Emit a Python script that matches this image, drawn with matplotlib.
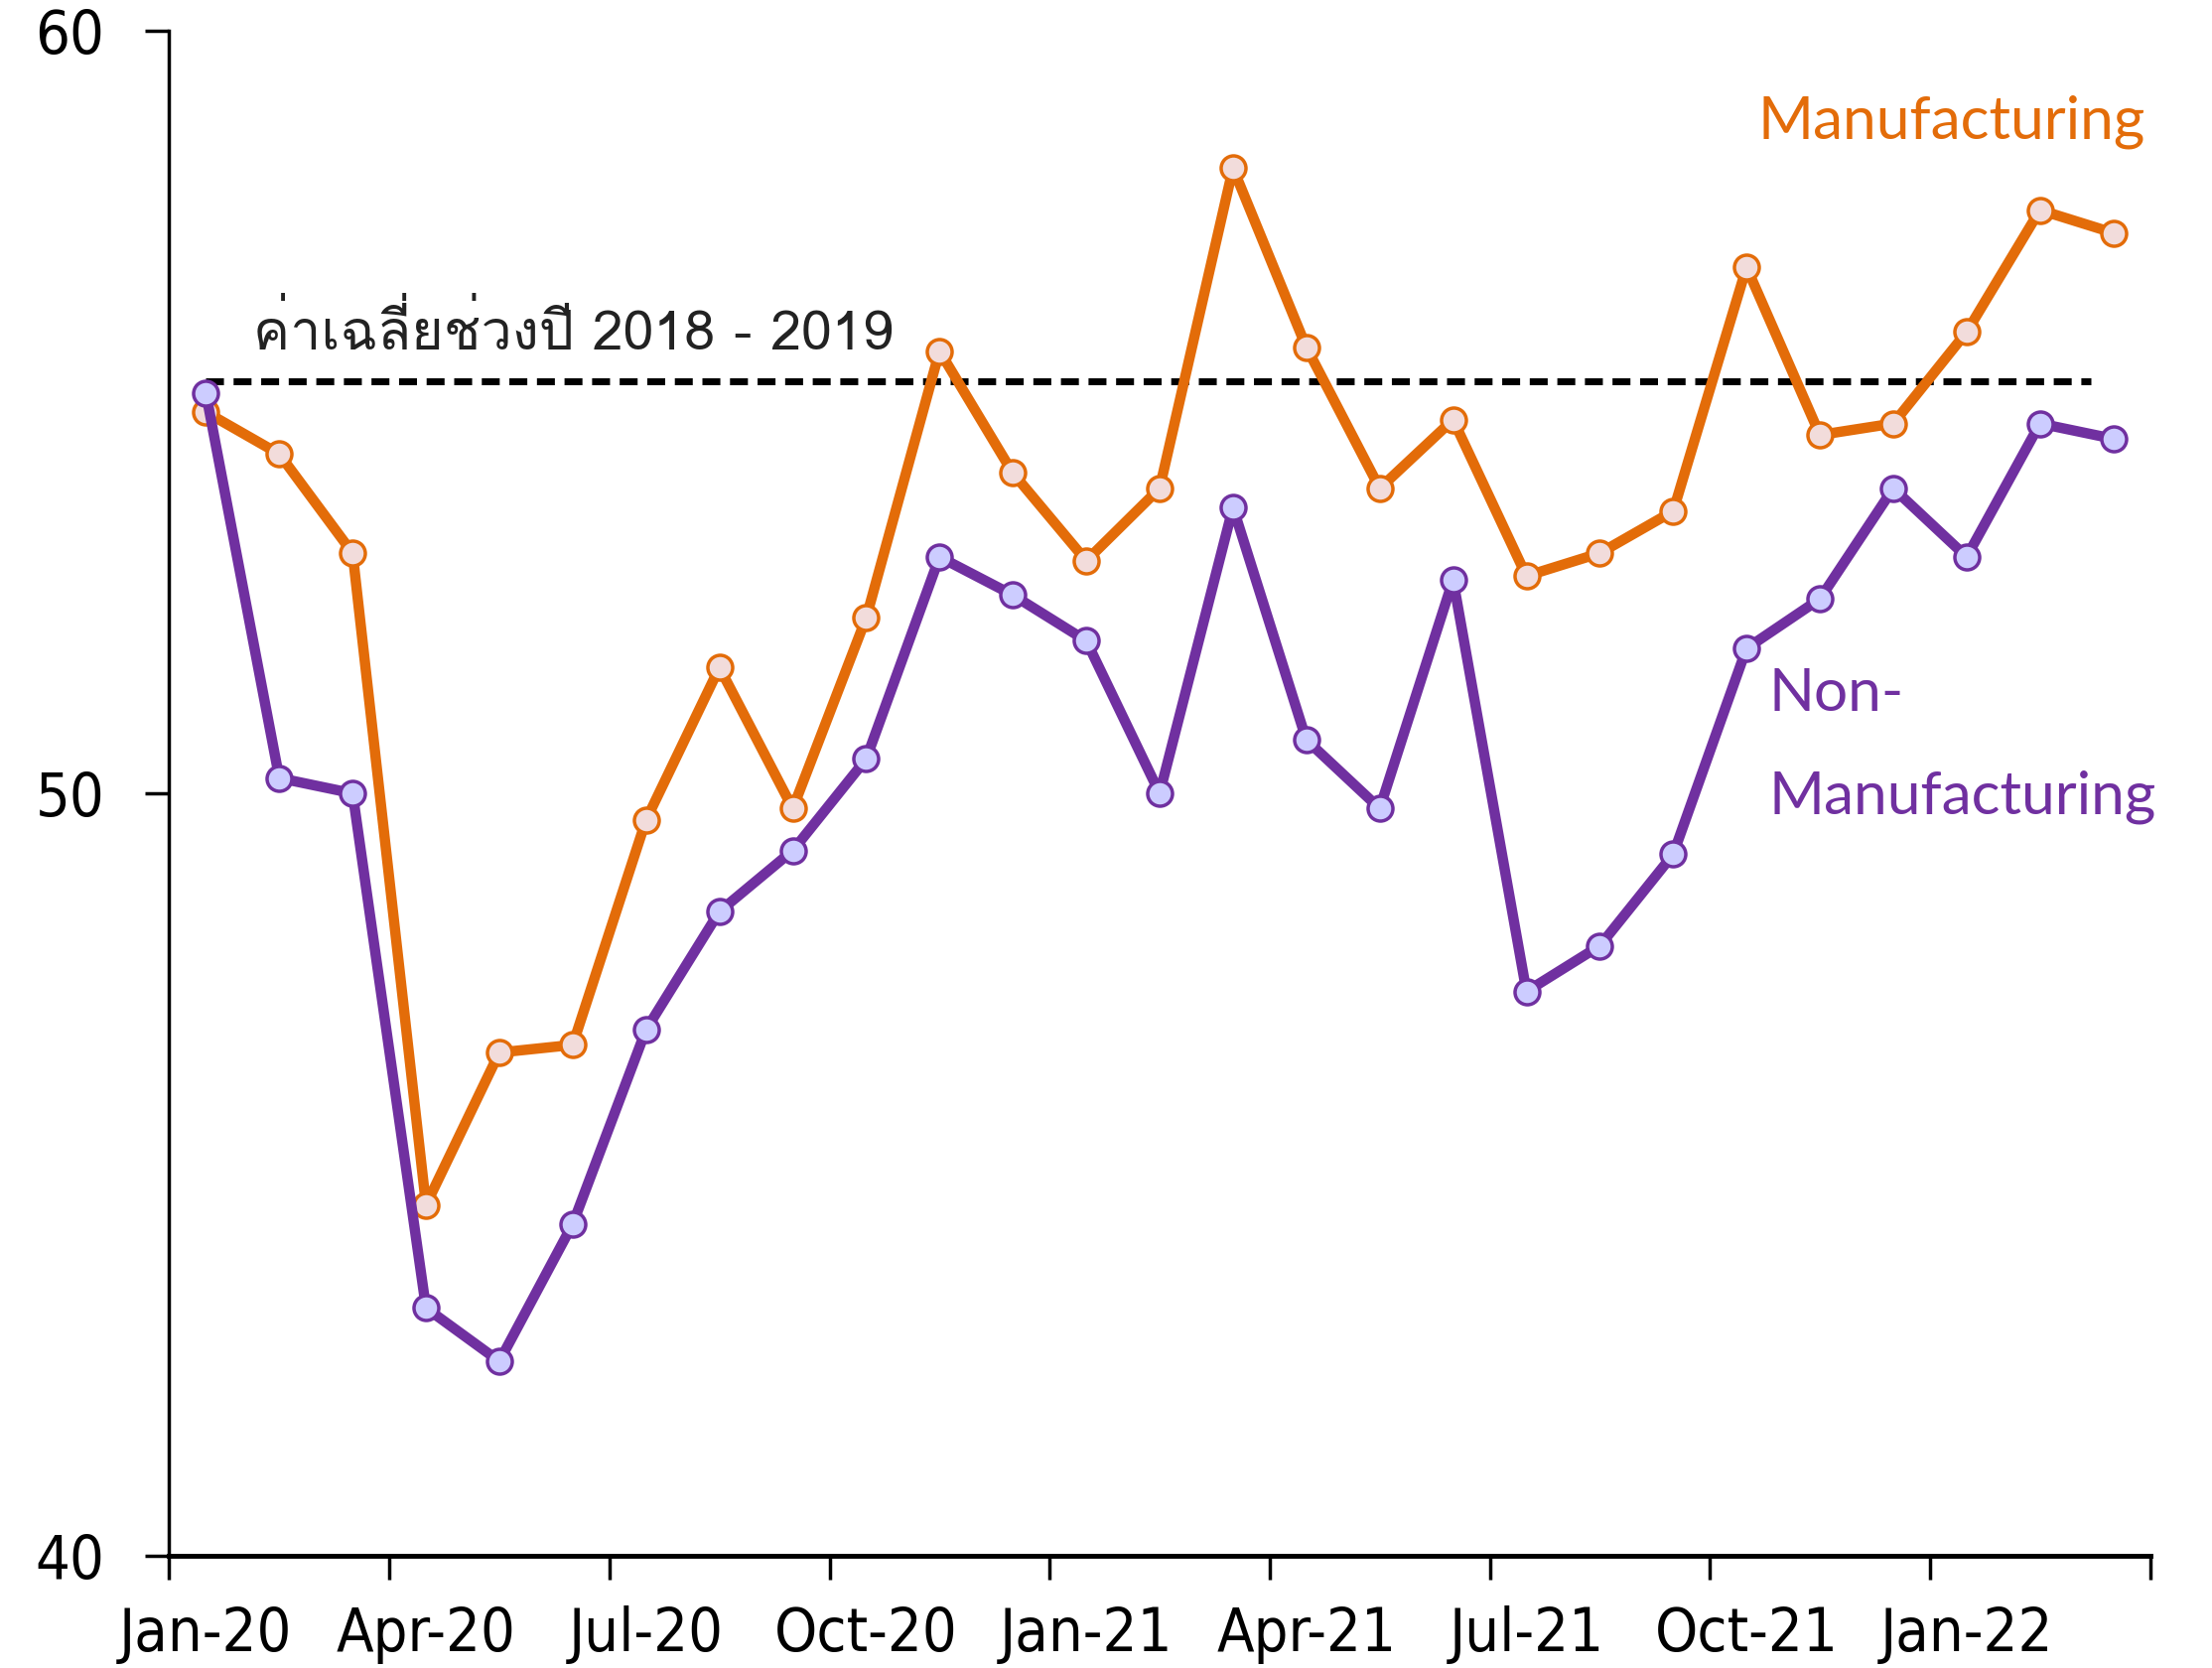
import matplotlib
matplotlib.use("Agg")
import matplotlib.pyplot as plt
from matplotlib import font_manager
from matplotlib.ft2font import FT2Font

months = ["Jan-20", "Feb-20", "Mar-20", "Apr-20", "May-20", "Jun-20", "Jul-20", "Aug-20", "Sep-20",
          "Oct-20", "Nov-20", "Dec-20", "Jan-21", "Feb-21", "Mar-21", "Apr-21", "May-21", "Jun-21",
          "Jul-21", "Aug-21", "Sep-21", "Oct-21", "Nov-21", "Dec-21", "Jan-22", "Feb-22", "Mar-22"]
manufacturing = [55.0, 54.45, 53.15, 44.6, 46.6, 46.7, 49.65, 51.65, 49.8,
                 52.3, 55.8, 54.2, 53.05, 54.0, 58.2, 55.85, 54.0, 54.9,
                 52.85, 53.15, 53.7, 56.9, 54.7, 54.85, 56.05, 57.65, 57.35]
non_manufacturing = [55.25, 50.2, 50.0, 43.25, 42.55, 44.35, 46.9, 48.45, 49.25,
                     50.45, 53.1, 52.6, 52.0, 50.0, 53.75, 50.7, 49.8, 52.8,
                     47.4, 48.0, 49.2, 51.9, 52.55, 54.0, 53.1, 54.85, 54.65]
avg_2018_2019 = 55.4
tick_labels = ["Jan-20", "Apr-20", "Jul-20", "Oct-20", "Jan-21", "Apr-21", "Jul-21", "Oct-21", "Jan-22"]

# find a font that has Thai glyphs
thai_font = None
for f in font_manager.fontManager.ttflist:
    try:
        cm = FT2Font(f.fname).get_charmap()
        if 0x0E04 in cm and 0x0E09 in cm:
            thai_font = f.name
            break
    except Exception:
        pass

names = {f.name for f in font_manager.fontManager.ttflist}
condensed_ok = any(f.name == "DejaVu Sans" and f.stretch == "condensed" for f in font_manager.fontManager.ttflist)
if "Liberation Sans Narrow" in names:
    tick_font = dict(family="Liberation Sans Narrow")
elif condensed_ok:
    tick_font = dict(family="DejaVu Sans", stretch="condensed")
else:
    tick_font = dict(family="DejaVu Sans")
thai_family = [thai_font, tick_font["family"]] if thai_font else [tick_font["family"]]
label_family = "Lato" if "Lato" in names else "Open Sans"

fig = plt.figure(figsize=(22.28, 16.8), dpi=100)
ax = fig.add_axes([0.0765, 0.0673, 0.8955, 0.9142])

x = list(range(len(months)))
orange = "#E36C09"
purple = "#7030A0"

ax.plot([0, len(months) - 1.3], [avg_2018_2019, avg_2018_2019], ls=(0, (2.6, 1.4)), color="black", lw=5, zorder=2)
ax.plot(x, manufacturing, color=orange, lw=7.5, marker="o", ms=18, mfc="#F2DCDB", mec=orange, mew=2.5, zorder=3)
ax.plot(x, non_manufacturing, color=purple, lw=7.5, marker="o", ms=18, mfc="#CCCCFF", mec=purple, mew=2.5, zorder=4)

ax.set_xlim(-0.5, len(months) - 0.5)
ax.set_ylim(40, 60)
ax.set_yticks([40, 50, 60])
ax.set_xticks([i - 0.5 for i in range(0, len(months) + 1, 3)])
ax.set_xticklabels([])
ax.set_xticks([i for i in range(0, len(months), 3)], minor=True)
ax.set_xticklabels(tick_labels, minor=True)
ax.tick_params(axis="x", which="major", length=17, width=2.5, direction="out")
ax.tick_params(axis="x", which="minor", length=0, pad=36, labelsize=44)
ax.tick_params(axis="y", length=17, width=2.5, pad=30, labelsize=44)
for lab in ax.get_xticklabels(minor=True) + ax.get_yticklabels():
    lab.set_family(tick_font["family"])
    if "stretch" in tick_font:
        lab.set_stretch(tick_font["stretch"])

for s in ["top", "right"]:
    ax.spines[s].set_visible(False)
ax.spines["left"].set_linewidth(2.5)
ax.spines["bottom"].set_linewidth(3.5)

ax.text(0.65, 56.05, "ค่าเฉลี่ยช่วงปี 2018 - 2019", fontsize=40, family=thai_family,
        stretch=tick_font.get("stretch", "normal"), color="#222222", ha="left", va="center")
ax.text(21.15, 58.8, "Manufacturing", fontsize=43.5, family=label_family, color=orange, ha="left", va="center")
ax.text(21.3, 51.3, "Non-", fontsize=43.5, family=label_family, color=purple, ha="left", va="center")
ax.text(21.3, 49.95, "Manufacturing", fontsize=43.5, family=label_family, color=purple, ha="left", va="center")

fig.savefig("out.png", dpi=100, facecolor="white")
